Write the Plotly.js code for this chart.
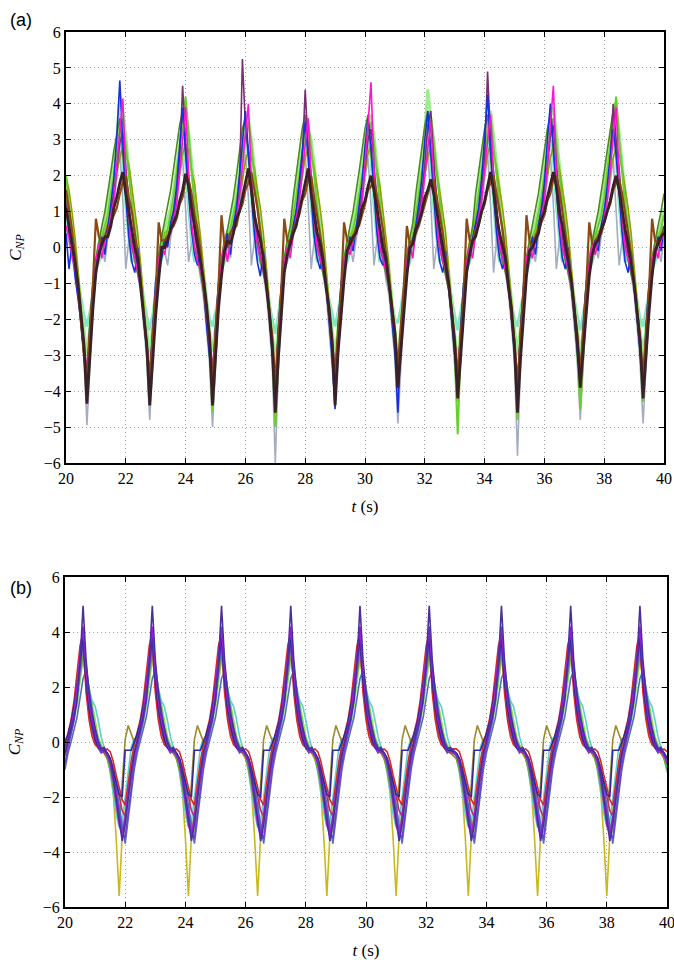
<!DOCTYPE html>
<html><head><meta charset="utf-8">
<script src="https://cdn.plot.ly/plotly-3.0.1.min.js"></script>
<style>html,body{margin:0;padding:0;background:#fff}#chart{width:674px;height:962px}</style>
</head><body><div id="chart"></div>
<script>
// time grid: samples every 0.1 s starting at t = 20 s (201 samples, 20..40 s)
const T_START = 20, T_STEP = 0.1;
const xTickVals = [20,22,24,26,28,30,32,34,36,38,40];
const yTickValsA = [-6,-5,-4,-3,-2,-1,0,1,2,3,4,5,6];
const yTickValsB = [-6,-4,-2,0,2,4,6];

// ---------- panel (a): measured C_NP ----------
const aDark = [
1.1,0.6,0.2,-0.4,-1.0,-1.8,-2.7,
-4.35,-2.9,-1.7,-0.7,-0.2,0.1,0.3,0.3,0.6,1.1,1.4,1.8,2.1,1.5,1.0,0.4,0.0,-0.3,-1.1,-1.8,-2.7,
-4.4,-3.1,-1.9,-0.9,0.0,0.0,0.2,0.5,0.7,0.9,1.3,1.6,2.05,1.7,1.1,0.6,0.1,-0.4,-0.9,-1.6,-2.5,
-4.4,-3.0,-1.7,-0.8,-0.1,0.2,0.1,0.4,0.8,1.0,1.4,1.8,2.2,1.6,0.9,0.5,0.2,-0.3,-1.0,-1.8,-2.8,
-4.6,-3.1,-1.9,-0.7,-0.2,0.1,0.4,0.6,1.0,1.3,1.8,2.2,1.5,1.0,0.4,0.1,-0.4,-1.1,-1.7,-2.6,
-4.4,-2.9,-1.8,-0.9,-0.1,0.1,0.3,0.4,0.7,1.1,1.3,1.7,2.0,1.6,1.1,0.5,0.0,-0.3,-1.0,-1.6,-2.4,
-3.9,-2.8,-1.7,-0.8,0.0,0.1,0.5,0.7,1.0,1.4,1.6,1.9,1.5,1.0,0.5,0.1,-0.4,-1.0,-1.8,-2.7,
-4.2,-3.0,-1.8,-0.7,-0.2,0.2,0.3,0.7,1.0,1.3,1.7,2.1,1.6,0.9,0.4,0.0,-0.3,-1.1,-1.7,-2.8,
-4.6,-3.1,-1.9,-0.8,-0.1,0.0,0.2,0.4,0.8,1.0,1.4,1.8,2.1,1.7,1.0,0.6,0.1,-0.3,-0.9,-1.7,-2.6,
-3.9,-2.9,-1.7,-0.8,-0.2,0.1,0.2,0.5,0.7,1.0,1.3,1.7,2.0,1.6,1.0,0.5,0.1,-0.4,-1.0,-1.8,-2.6,
-4.2,-2.9,-1.8,-0.8,-0.1,0.1,0.3,0.4];
const aBrown = [
1.6,1.1,0.5,-0.2,-1.1,-2.0,-3.0,
-3.5,-2.3,-1.0,0.8,0.3,0.1,0.3,0.4,0.7,0.9,1.1,1.5,1.8,2.0,1.4,1.0,0.4,-0.2,-1.0,-1.9,-2.6,
-3.6,-2.5,-1.3,0.7,0.2,0.2,0.3,0.5,0.6,0.8,1.2,1.4,1.9,1.9,1.5,0.9,0.5,-0.1,-1.1,-1.8,-2.4,
-3.7,-2.4,-1.1,0.9,0.1,0.0,0.4,0.5,0.6,1.0,1.2,1.6,1.8,2.1,1.6,1.1,0.4,-0.3,-0.9,-1.8,-2.5,
-3.8,-2.5,-1.2,0.8,0.2,0.1,0.5,0.7,0.9,1.3,1.5,1.9,2.0,1.4,0.9,0.4,-0.2,-1.0,-1.9,-2.6,
-3.5,-2.3,-1.2,0.7,0.2,0.1,0.2,0.5,0.6,0.9,1.2,1.6,1.7,1.9,1.5,1.0,0.5,-0.2,-0.9,-1.7,-2.3,
-3.3,-2.2,-1.1,0.6,0.1,0.2,0.4,0.6,0.9,1.2,1.5,1.8,1.9,1.4,0.9,0.4,-0.3,-1.0,-1.8,-2.5,
-3.6,-2.4,-1.3,0.8,0.2,0.1,0.5,0.6,1.0,1.2,1.6,1.8,2.0,1.5,1.0,0.5,-0.2,-1.1,-1.9,-2.6,
-3.9,-2.5,-1.2,0.9,0.2,0.0,0.3,0.5,0.7,0.9,1.3,1.5,1.9,2.0,1.6,1.0,0.5,-0.2,-1.0,-1.8,-2.4,
-3.5,-2.3,-1.1,0.7,0.1,0.1,0.3,0.4,0.7,1.0,1.2,1.6,1.8,1.9,1.5,1.0,0.4,-0.2,-1.0,-1.8,-2.5,
-3.6,-2.4,-1.2,0.8,0.2,0.1,0.3,0.5];
const aBlue = [
0.4,-0.6,0.1,-0.8,-1.4,-2.1,-3.0,
-3.9,-2.1,-1.1,-0.4,-0.1,0.3,-0.2,0.5,1.2,1.9,3.1,4.65,2.9,1.4,0.3,-0.4,-0.7,0.0,-0.9,-2.0,-2.8,
-3.7,-2.3,-0.9,-0.6,-0.3,0.2,0.0,0.7,1.0,1.7,2.8,3.9,2.6,1.6,0.5,-0.2,-0.5,-0.2,-1.0,-2.1,-3.0,
-3.9,-2.2,-1.0,-0.5,-0.1,0.4,-0.2,0.6,1.1,1.9,2.9,3.8,2.7,1.4,0.4,-0.4,-0.8,-0.1,-0.8,-1.9,-2.9,
-4.0,-2.3,-1.1,-0.4,-0.2,0.2,0.6,1.0,1.8,2.7,3.5,2.5,1.3,0.3,-0.3,-0.6,-0.2,-1.0,-2.0,-3.1,
-4.5,-2.2,-1.0,-0.5,-0.2,0.3,-0.1,0.5,1.1,1.8,2.8,3.6,2.8,1.5,0.4,-0.3,-0.5,-0.1,-0.9,-2.0,-2.9,
-4.6,-2.4,-1.2,-0.5,-0.1,0.3,0.6,1.2,1.9,3.0,3.8,2.6,1.4,0.3,-0.4,-0.7,-0.1,-1.0,-2.1,-3.0,
-3.9,-2.2,-1.0,-0.6,-0.2,0.2,0.7,1.1,1.9,3.2,4.25,2.7,1.5,0.4,-0.3,-0.6,-0.2,-0.9,-2.0,-2.9,
-4.1,-2.3,-1.1,-0.5,-0.3,0.3,-0.2,0.6,1.1,1.8,3.0,4.0,2.8,1.5,0.5,-0.3,-0.6,0.0,-0.9,-1.9,-2.8,
-3.8,-2.1,-1.0,-0.5,-0.2,0.2,-0.1,0.6,1.0,1.7,2.6,3.3,2.6,1.4,0.4,-0.4,-0.7,-0.1,-1.0,-2.0,-2.9,
-4.0,-2.2,-1.0,-0.5,-0.2,0.3,-0.1,0.6];
const aMagenta = [
0.6,0.3,-0.2,-0.6,-1.0,-1.9,-2.7,
-3.4,-2.4,-1.3,-0.4,0.1,-0.3,0.2,0.4,0.9,1.3,2.3,3.3,4.15,2.0,0.9,0.1,-0.3,-0.6,-1.1,-1.9,-2.6,
-3.5,-2.5,-1.2,-0.3,0.0,-0.2,0.3,0.4,0.8,1.2,2.1,3.0,3.9,2.1,0.7,0.0,-0.4,-0.6,-1.0,-1.8,-2.7,
-3.3,-2.4,-1.1,-0.4,0.1,-0.4,0.2,0.5,0.8,1.4,2.2,3.1,4.0,1.9,0.8,0.1,-0.3,-0.5,-1.0,-1.7,-2.6,
-3.6,-2.6,-1.2,-0.4,0.0,-0.3,0.4,0.8,1.3,2.1,2.9,3.6,2.0,0.8,0.0,-0.3,-0.6,-1.0,-1.8,-2.5,
-3.4,-2.5,-1.2,-0.5,0.0,-0.2,0.2,0.4,0.7,1.3,2.3,3.4,4.6,2.2,0.9,0.0,-0.3,-0.7,-1.0,-1.8,-2.6,
-3.3,-2.4,-1.1,-0.4,0.1,-0.3,0.5,0.8,1.2,2.0,2.8,3.5,1.9,0.7,0.0,-0.4,-0.6,-1.1,-1.9,-2.6,
-3.5,-2.5,-1.3,-0.4,0.0,-0.3,0.4,0.9,1.3,2.2,3.0,3.7,2.0,0.8,0.1,-0.3,-0.6,-1.0,-1.8,-2.7,
-3.6,-2.5,-1.2,-0.3,0.0,-0.3,0.3,0.4,0.8,1.3,2.3,3.4,4.5,2.1,0.8,0.0,-0.3,-0.6,-1.0,-1.8,-2.6,
-3.4,-2.4,-1.2,-0.4,0.1,-0.2,0.2,0.4,0.8,1.3,2.2,3.1,3.9,2.0,0.8,0.0,-0.3,-0.6,-1.0,-1.8,-2.6,
-3.5,-2.5,-1.2,-0.4,0.0,-0.3,0.2,0.4];
const aPurple = [
1.2,0.4,-0.1,-0.5,-1.2,-2.0,-2.9,
-3.8,-2.6,-1.4,-0.6,-0.2,0.1,0.3,0.6,1.0,1.5,2.2,2.9,3.2,2.3,1.2,0.3,-0.2,-0.5,-1.1,-1.9,-2.8,
-3.9,-2.5,-1.3,-0.6,-0.1,0.2,0.3,0.5,0.9,1.5,2.4,4.5,2.9,2.0,1.1,0.4,-0.1,-0.5,-1.2,-2.0,-2.9,
-4.0,-2.7,-1.5,-0.5,-0.2,0.1,0.4,0.6,1.0,1.6,5.25,3.4,2.6,1.8,1.0,0.3,-0.2,-0.6,-1.1,-1.9,-2.8,
-3.9,-2.6,-1.4,-0.6,-0.1,0.2,0.5,1.0,1.5,2.4,4.4,2.8,2.0,1.1,0.3,-0.2,-0.5,-1.1,-2.0,-2.8,
-3.8,-2.5,-1.4,-0.6,-0.2,0.1,0.3,0.5,0.9,1.4,2.2,3.0,3.3,2.3,1.2,0.3,-0.2,-0.5,-1.0,-1.8,-2.7,
-3.7,-2.5,-1.3,-0.5,-0.1,0.2,0.5,0.9,1.5,2.3,3.4,3.8,2.4,1.2,0.3,-0.2,-0.6,-1.1,-1.9,-2.8,
-4.0,-2.6,-1.4,-0.6,-0.2,0.1,0.5,1.0,1.5,2.5,4.9,3.0,2.1,1.1,0.3,-0.2,-0.5,-1.1,-1.9,-2.8,
-4.1,-2.6,-1.4,-0.6,-0.2,0.1,0.3,0.5,0.9,1.5,2.3,3.1,3.4,2.3,1.2,0.3,-0.2,-0.5,-1.1,-1.9,-2.8,
-3.8,-2.5,-1.3,-0.6,-0.1,0.2,0.3,0.5,1.0,1.5,2.4,4.0,3.0,2.2,1.1,0.3,-0.2,-0.5,-1.1,-1.9,-2.8,
-3.9,-2.6,-1.4,-0.6,-0.2,0.1,0.3,0.5];
const aGreen = [
2.0,1.2,0.5,-0.3,-1.0,-1.9,-2.9,
-4.2,-2.8,-1.4,-0.6,0.1,0.3,0.6,0.9,1.5,2.0,2.7,3.3,3.6,2.8,2.0,1.1,0.5,-0.2,-1.0,-1.8,-2.9,
-4.0,-2.7,-1.5,-0.5,0.0,0.4,0.5,1.0,1.4,2.1,2.7,3.4,4.2,3.0,2.1,1.2,0.4,-0.2,-0.9,-1.9,-2.9,
-4.6,-2.9,-1.6,-0.6,0.0,0.3,0.5,0.9,1.3,1.9,2.6,3.1,3.5,2.9,1.9,1.2,0.5,-0.3,-0.9,-1.8,-2.9,
-5.0,-3.0,-1.5,-0.6,0.1,0.3,0.8,1.4,2.0,2.6,3.2,3.5,2.8,2.0,1.1,0.5,-0.2,-0.9,-1.8,-2.8,
-4.1,-2.7,-1.5,-0.6,0.0,0.3,0.5,0.9,1.4,2.0,2.5,3.1,3.5,2.9,2.0,1.2,0.5,-0.2,-0.9,-1.8,-2.8,
-4.0,-2.8,-1.4,-0.5,0.1,0.3,0.9,1.4,2.0,2.7,3.3,3.7,2.9,2.0,1.2,0.5,-0.2,-1.0,-1.9,-3.0,
-5.2,-2.9,-1.6,-0.6,0.0,0.4,0.9,1.5,2.1,2.6,3.2,3.6,2.8,1.9,1.1,0.4,-0.2,-0.9,-1.9,-2.9,
-4.8,-2.8,-1.5,-0.6,0.0,0.3,0.5,0.9,1.4,2.0,2.6,3.2,3.6,2.9,2.0,1.2,0.5,-0.2,-0.9,-1.8,-2.9,
-4.5,-2.8,-1.5,-0.6,0.1,0.3,0.6,0.9,1.4,2.1,2.8,3.5,4.2,3.0,2.0,1.2,0.5,-0.2,-1.0,-1.8,-2.8,
-4.3,-2.8,-1.5,-0.6,0.0,0.3,0.5,0.9];
const aLightGreen = [
1.8,1.2,0.6,-0.1,-0.8,-1.5,-2.2,
-3.0,-2.2,-1.3,-0.5,0.1,0.4,0.7,1.2,1.7,2.3,3.0,4.2,3.8,3.1,2.2,1.5,0.8,0.1,-0.7,-1.5,-2.2,
-3.1,-2.1,-1.2,-0.4,0.2,0.5,0.8,1.1,1.6,2.2,2.9,3.5,3.8,3.2,2.4,1.5,0.7,0.0,-0.7,-1.4,-2.3,
-2.9,-2.2,-1.3,-0.5,0.1,0.4,0.7,1.1,1.5,2.1,2.8,3.4,3.6,3.0,2.2,1.4,0.8,0.1,-0.7,-1.5,-2.2,
-3.2,-2.3,-1.4,-0.5,0.1,0.4,1.0,1.6,2.2,2.9,3.5,3.3,3.0,2.3,1.5,0.8,0.1,-0.7,-1.5,-2.3,
-3.0,-2.2,-1.3,-0.5,0.2,0.4,0.7,1.1,1.6,2.2,2.9,3.5,3.7,3.1,2.3,1.5,0.8,0.1,-0.6,-1.4,-2.2,
-3.1,-2.2,-1.2,-0.4,0.1,0.5,1.1,1.7,2.3,3.2,4.4,3.6,3.0,2.2,1.5,0.7,0.0,-0.7,-1.5,-2.3,
-3.3,-2.3,-1.3,-0.5,0.1,0.4,1.0,1.6,2.2,2.9,3.6,3.8,3.1,2.3,1.4,0.8,0.1,-0.7,-1.5,-2.2,
-3.0,-2.2,-1.3,-0.5,0.1,0.4,0.7,1.1,1.6,2.3,3.0,3.6,3.9,3.2,2.3,1.5,0.8,0.1,-0.7,-1.5,-2.2,
-3.1,-2.2,-1.2,-0.5,0.2,0.5,0.8,1.2,1.7,2.3,3.0,3.7,3.9,3.2,2.3,1.5,0.8,0.1,-0.7,-1.5,-2.3,
-3.0,-2.2,-1.3,-0.5,0.1,0.4,0.7,1.1];
const aOlive = [
2.0,1.6,1.0,0.3,-0.6,-1.6,-2.7,
-4.0,-2.6,-1.6,-0.7,-0.1,0.3,0.4,0.7,1.0,1.5,2.1,2.5,2.8,2.6,2.3,1.7,1.1,0.4,-0.5,-1.5,-2.6,
-4.1,-2.7,-1.5,-0.8,-0.1,0.2,0.5,0.6,1.1,1.5,2.0,2.6,2.9,2.7,2.1,1.8,1.0,0.3,-0.6,-1.6,-2.7,
-3.9,-2.5,-1.6,-0.7,0.0,0.2,0.4,0.6,1.0,1.4,1.9,2.4,2.7,2.5,2.2,1.6,1.1,0.4,-0.5,-1.5,-2.5,
-4.0,-2.6,-1.6,-0.7,-0.1,0.2,0.6,1.0,1.5,2.0,2.5,2.8,2.6,2.2,1.7,1.1,0.4,-0.5,-1.6,-2.7,
-4.1,-2.6,-1.7,-0.7,-0.1,0.2,0.4,0.6,1.0,1.6,2.1,2.6,2.9,2.6,2.2,1.7,1.0,0.3,-0.5,-1.5,-2.6,
-3.9,-2.5,-1.6,-0.6,0.0,0.2,0.6,1.1,1.5,2.0,2.5,2.8,2.5,2.1,1.6,1.0,0.4,-0.6,-1.6,-2.7,
-4.1,-2.7,-1.6,-0.7,-0.1,0.3,0.6,1.0,1.5,2.1,2.6,2.9,2.6,2.2,1.7,1.1,0.4,-0.5,-1.5,-2.6,
-4.0,-2.6,-1.5,-0.7,-0.1,0.2,0.4,0.7,1.0,1.5,2.0,2.5,2.8,2.6,2.2,1.7,1.1,0.4,-0.5,-1.5,-2.6,
-4.0,-2.6,-1.6,-0.7,-0.1,0.2,0.4,0.6,1.0,1.5,2.0,2.5,2.8,2.6,2.2,1.7,1.1,0.4,-0.5,-1.5,-2.6,
-4.0,-2.6,-1.6,-0.7,-0.1,0.2,0.4,0.6];
const aGray = [
0.6,0.1,-0.3,-0.7,-1.3,-2.1,-3.0,
-4.95,-3.1,-1.7,-0.7,-0.3,0.1,-0.4,0.3,0.8,1.2,1.9,2.7,1.3,-0.6,0.2,0.3,-0.2,-0.8,-1.3,-2.2,-3.1,
-4.8,-3.2,-1.6,-0.8,-0.2,-0.1,-0.5,0.3,0.7,1.3,2.0,2.5,1.1,-0.4,0.1,0.3,-0.3,-0.8,-1.4,-2.3,-3.2,
-5.0,-3.3,-1.7,-0.6,-0.3,0.0,-0.3,0.4,0.7,1.1,1.8,2.6,1.4,-0.5,0.2,0.2,-0.2,-0.7,-1.3,-2.2,-3.3,
-6.0,-3.4,-1.8,-0.7,-0.4,0.0,0.3,0.6,1.2,1.9,2.6,1.2,-0.6,0.2,0.3,-0.2,-0.8,-1.3,-2.3,-3.2,
-4.3,-3.1,-1.7,-0.7,-0.2,0.1,-0.4,0.2,0.7,1.2,1.9,2.5,1.2,-0.5,0.2,0.3,-0.2,-0.9,-1.3,-2.2,-3.1,
-4.9,-3.2,-1.7,-0.7,-0.3,0.0,0.3,0.7,1.3,2.0,2.7,1.3,-0.6,0.1,0.3,-0.2,-0.8,-1.2,-2.2,-3.2,
-4.3,-3.1,-1.6,-0.7,-0.3,0.0,0.3,0.7,1.2,1.9,2.6,1.2,-0.7,0.2,0.3,-0.2,-0.8,-1.3,-2.2,-3.2,
-5.8,-3.3,-1.8,-0.7,-0.3,0.0,-0.4,0.3,0.7,1.2,1.9,2.6,1.2,-0.6,0.2,0.3,-0.2,-0.8,-1.3,-2.2,-3.2,
-4.8,-3.2,-1.7,-0.7,-0.3,0.1,-0.3,0.3,0.7,1.2,1.8,2.5,1.1,-0.5,0.2,0.3,-0.2,-0.8,-1.3,-2.2,-3.2,
-4.9,-3.2,-1.7,-0.7,-0.3,0.0,-0.4,0.3];
const aAqua = [
0.9,0.3,-0.2,-0.5,-0.9,-1.4,-1.9,
-2.2,-1.8,-1.3,-0.6,-0.4,-0.1,0.2,0.6,1.1,1.8,2.5,3.1,2.5,1.2,0.3,-0.4,-0.3,-0.6,-1.0,-1.5,-1.9,
-2.3,-1.9,-1.3,-0.7,-0.3,0.0,0.2,0.7,1.2,1.7,2.4,2.9,2.4,1.1,0.2,-0.4,-0.3,-0.5,-1.0,-1.5,-2.0,
-2.2,-1.8,-1.4,-0.6,-0.4,-0.1,0.3,0.6,1.0,1.7,2.3,3.0,2.6,1.3,0.3,-0.3,-0.4,-0.6,-1.0,-1.6,-2.0,
-2.4,-1.9,-1.3,-0.6,-0.3,-0.1,0.6,1.1,1.7,2.4,3.0,2.5,1.2,0.3,-0.4,-0.3,-0.6,-1.1,-1.5,-1.9,
-2.2,-1.8,-1.3,-0.6,-0.4,-0.1,0.2,0.6,1.1,1.7,2.4,3.0,2.5,1.2,0.3,-0.4,-0.3,-0.6,-1.0,-1.6,-2.0,
-2.1,-1.7,-1.2,-0.6,-0.4,0.0,0.6,1.1,1.8,2.5,3.1,2.5,1.1,0.3,-0.4,-0.3,-0.6,-1.0,-1.5,-1.9,
-2.3,-1.8,-1.3,-0.6,-0.4,-0.1,0.6,1.1,1.7,2.4,3.0,2.4,1.2,0.2,-0.4,-0.3,-0.6,-1.0,-1.6,-2.0,
-2.2,-1.8,-1.3,-0.7,-0.4,-0.1,0.2,0.6,1.1,1.7,2.4,3.0,2.5,1.2,0.3,-0.4,-0.3,-0.6,-1.0,-1.5,-1.9,
-2.3,-1.9,-1.4,-0.6,-0.4,-0.1,0.2,0.6,1.1,1.7,2.4,3.0,2.5,1.2,0.3,-0.4,-0.3,-0.6,-1.0,-1.5,-2.0,
-2.2,-1.8,-1.3,-0.6,-0.4,-0.1,0.2,0.6];
const aDarkGreen = [
1.4,0.7,0.0,-0.5,-1.1,-1.9,-2.8,
-3.9,-2.3,-1.0,-0.3,0.2,0.6,1.0,1.5,2.1,2.7,3.2,3.6,2.6,1.5,0.6,0.0,-0.4,-0.7,-1.1,-1.9,-2.8,
-3.8,-2.2,-1.1,-0.2,0.3,0.7,1.1,1.6,2.2,2.8,3.4,3.8,2.7,1.4,0.5,0.0,-0.3,-0.7,-1.2,-2.0,-2.9,
-4.0,-2.4,-1.0,-0.3,0.2,0.5,0.9,1.4,2.0,2.6,3.3,3.6,2.5,1.5,0.6,0.1,-0.4,-0.7,-1.1,-1.9,-2.8,
-4.1,-2.3,-1.1,-0.3,0.2,0.6,1.4,2.0,2.7,3.3,3.7,2.6,1.5,0.6,0.0,-0.4,-0.7,-1.1,-1.9,-2.8,
-3.9,-2.3,-1.0,-0.3,0.2,0.6,1.0,1.5,2.1,2.7,3.3,3.7,2.6,1.5,0.6,0.0,-0.4,-0.7,-1.1,-1.9,-2.8,
-3.8,-2.2,-1.0,-0.2,0.3,0.7,1.5,2.1,2.8,3.4,3.8,2.7,1.5,0.6,0.0,-0.4,-0.7,-1.2,-2.0,-2.9,
-3.9,-2.3,-1.0,-0.3,0.2,0.6,1.5,2.1,2.7,3.3,3.7,2.6,1.4,0.6,0.0,-0.4,-0.7,-1.1,-1.9,-2.8,
-4.0,-2.3,-1.1,-0.3,0.2,0.6,1.0,1.5,2.1,2.7,3.3,3.7,2.6,1.5,0.6,0.0,-0.4,-0.7,-1.1,-1.9,-2.8,
-3.9,-2.3,-1.0,-0.3,0.2,0.6,1.0,1.5,2.1,2.7,3.3,3.8,2.6,1.5,0.6,0.0,-0.4,-0.7,-1.1,-1.9,-2.8,
-3.9,-2.3,-1.0,-0.3,0.2,0.6,1.0,1.5];

// ---------- panel (b): computed C_NP ----------
const bIndigo = [
-0.4,0.0,0.4,0.9,1.5,2.9,
4.95,3.0,1.8,1.0,0.5,0.0,-0.25,-0.2,-0.4,-0.6,-1.2,-2.0,-2.9,-3.6,-3.0,-2.0,-1.1,-0.4,0.0,0.4,0.9,1.5,2.9,
4.95,3.0,1.8,1.0,0.5,0.0,-0.25,-0.2,-0.4,-0.6,-1.2,-2.0,-2.9,-3.6,-3.0,-2.0,-1.1,-0.4,0.0,0.4,0.9,1.5,2.9,
4.95,3.0,1.8,1.0,0.5,0.0,-0.25,-0.2,-0.4,-0.6,-1.2,-2.0,-2.9,-3.6,-3.0,-2.0,-1.1,-0.4,0.0,0.4,0.9,1.5,2.9,
4.95,3.0,1.8,1.0,0.5,0.0,-0.25,-0.2,-0.4,-0.6,-1.2,-2.0,-2.9,-3.6,-3.0,-2.0,-1.1,-0.4,0.0,0.4,0.9,1.5,2.9,
4.95,3.0,1.8,1.0,0.5,0.0,-0.25,-0.2,-0.4,-0.6,-1.2,-2.0,-2.9,-3.6,-3.0,-2.0,-1.1,-0.4,0.0,0.4,0.9,1.5,2.9,
4.95,3.0,1.8,1.0,0.5,0.0,-0.25,-0.2,-0.3,-0.4,-0.6,-1.2,-2.0,-2.9,-3.6,-3.0,-2.0,-1.1,-0.4,0.0,0.4,0.9,1.5,2.9,
4.95,3.0,1.8,1.0,0.5,0.0,-0.25,-0.2,-0.4,-0.6,-1.2,-2.0,-2.9,-3.6,-3.0,-2.0,-1.1,-0.4,0.0,0.4,0.9,1.5,2.9,
4.95,3.0,1.8,1.0,0.5,0.0,-0.25,-0.2,-0.4,-0.6,-1.2,-2.0,-2.9,-3.6,-3.0,-2.0,-1.1,-0.4,0.0,0.4,0.9,1.5,2.9,
4.95,3.0,1.8,1.0,0.5,0.0,-0.25,-0.2,-0.4,-0.6];
const bPurple = [
-0.4,0.0,0.5,1.1,2.0,3.2,
4.2,2.6,1.5,0.8,0.3,-0.1,-0.3,-0.2,-0.45,-0.8,-1.4,-2.2,-3.0,-3.4,-2.7,-1.8,-1.0,-0.4,0.0,0.5,1.1,2.0,3.2,
4.2,2.6,1.5,0.8,0.3,-0.1,-0.3,-0.2,-0.45,-0.8,-1.4,-2.2,-3.0,-3.4,-2.7,-1.8,-1.0,-0.4,0.0,0.5,1.1,2.0,3.2,
4.2,2.6,1.5,0.8,0.3,-0.1,-0.3,-0.2,-0.45,-0.8,-1.4,-2.2,-3.0,-3.4,-2.7,-1.8,-1.0,-0.4,0.0,0.5,1.1,2.0,3.2,
4.2,2.6,1.5,0.8,0.3,-0.1,-0.3,-0.2,-0.45,-0.8,-1.4,-2.2,-3.0,-3.4,-2.7,-1.8,-1.0,-0.4,0.0,0.5,1.1,2.0,3.2,
4.2,2.6,1.5,0.8,0.3,-0.1,-0.3,-0.2,-0.45,-0.8,-1.4,-2.2,-3.0,-3.4,-2.7,-1.8,-1.0,-0.4,0.0,0.5,1.1,2.0,3.2,
4.2,2.6,1.5,0.8,0.3,-0.1,-0.3,-0.2,-0.3,-0.45,-0.8,-1.4,-2.2,-3.0,-3.4,-2.7,-1.8,-1.0,-0.4,0.0,0.5,1.1,2.0,3.2,
4.2,2.6,1.5,0.8,0.3,-0.1,-0.3,-0.2,-0.45,-0.8,-1.4,-2.2,-3.0,-3.4,-2.7,-1.8,-1.0,-0.4,0.0,0.5,1.1,2.0,3.2,
4.2,2.6,1.5,0.8,0.3,-0.1,-0.3,-0.2,-0.45,-0.8,-1.4,-2.2,-3.0,-3.4,-2.7,-1.8,-1.0,-0.4,0.0,0.5,1.1,2.0,3.2,
4.2,2.6,1.5,0.8,0.3,-0.1,-0.3,-0.2,-0.45,-0.8];
const bRed = [
-0.2,0.3,0.8,1.5,2.4,3.5,
3.95,1.8,0.8,0.2,-0.1,-0.2,-0.35,-0.3,-0.25,-0.35,-0.7,-1.2,-1.7,-2.1,-2.3,-1.4,-0.7,-0.1,0.3,0.8,1.5,2.4,3.5,
3.95,1.8,0.8,0.2,-0.1,-0.2,-0.35,-0.3,-0.25,-0.35,-0.7,-1.2,-1.7,-2.1,-2.3,-1.4,-0.7,-0.1,0.3,0.8,1.5,2.4,3.5,
3.95,1.8,0.8,0.2,-0.1,-0.2,-0.35,-0.3,-0.25,-0.35,-0.7,-1.2,-1.7,-2.1,-2.3,-1.4,-0.7,-0.1,0.3,0.8,1.5,2.4,3.5,
3.95,1.8,0.8,0.2,-0.1,-0.2,-0.35,-0.3,-0.25,-0.35,-0.7,-1.2,-1.7,-2.1,-2.3,-1.4,-0.7,-0.1,0.3,0.8,1.5,2.4,3.5,
3.95,1.8,0.8,0.2,-0.1,-0.2,-0.35,-0.3,-0.25,-0.35,-0.7,-1.2,-1.7,-2.1,-2.3,-1.4,-0.7,-0.1,0.3,0.8,1.5,2.4,3.5,
3.95,1.8,0.8,0.2,-0.1,-0.2,-0.35,-0.3,-0.25,-0.25,-0.35,-0.7,-1.2,-1.7,-2.1,-2.3,-1.4,-0.7,-0.1,0.3,0.8,1.5,2.4,3.5,
3.95,1.8,0.8,0.2,-0.1,-0.2,-0.35,-0.3,-0.25,-0.35,-0.7,-1.2,-1.7,-2.1,-2.3,-1.4,-0.7,-0.1,0.3,0.8,1.5,2.4,3.5,
3.95,1.8,0.8,0.2,-0.1,-0.2,-0.35,-0.3,-0.25,-0.35,-0.7,-1.2,-1.7,-2.1,-2.3,-1.4,-0.7,-0.1,0.3,0.8,1.5,2.4,3.5,
3.95,1.8,0.8,0.2,-0.1,-0.2,-0.35,-0.3,-0.25,-0.35];
const bGreen = [
-0.5,0.0,0.4,0.9,1.6,2.6,
3.5,2.8,1.8,1.0,0.4,0.0,-0.2,-0.3,-0.5,-0.9,-1.5,-2.2,-2.8,-3.2,-3.0,-2.1,-1.2,-0.5,0.0,0.4,0.9,1.6,2.6,
3.5,2.8,1.8,1.0,0.4,0.0,-0.2,-0.3,-0.5,-0.9,-1.5,-2.2,-2.8,-3.2,-3.0,-2.1,-1.2,-0.5,0.0,0.4,0.9,1.6,2.6,
3.5,2.8,1.8,1.0,0.4,0.0,-0.2,-0.3,-0.5,-0.9,-1.5,-2.2,-2.8,-3.2,-3.0,-2.1,-1.2,-0.5,0.0,0.4,0.9,1.6,2.6,
3.5,2.8,1.8,1.0,0.4,0.0,-0.2,-0.3,-0.5,-0.9,-1.5,-2.2,-2.8,-3.2,-3.0,-2.1,-1.2,-0.5,0.0,0.4,0.9,1.6,2.6,
3.5,2.8,1.8,1.0,0.4,0.0,-0.2,-0.3,-0.5,-0.9,-1.5,-2.2,-2.8,-3.2,-3.0,-2.1,-1.2,-0.5,0.0,0.4,0.9,1.6,2.6,
3.5,2.8,1.8,1.0,0.4,0.0,-0.2,-0.3,-0.4,-0.5,-0.9,-1.5,-2.2,-2.8,-3.2,-3.0,-2.1,-1.2,-0.5,0.0,0.4,0.9,1.6,2.6,
3.5,2.8,1.8,1.0,0.4,0.0,-0.2,-0.3,-0.5,-0.9,-1.5,-2.2,-2.8,-3.2,-3.0,-2.1,-1.2,-0.5,0.0,0.4,0.9,1.6,2.6,
3.5,2.8,1.8,1.0,0.4,0.0,-0.2,-0.3,-0.5,-0.9,-1.5,-2.2,-2.8,-3.2,-3.0,-2.1,-1.2,-0.5,0.0,0.4,0.9,1.6,2.6,
3.5,2.8,1.8,1.0,0.4,0.0,-0.2,-0.3,-0.5,-0.9];
const bCyan = [
0.15,0.0,0.3,0.8,1.5,2.4,
3.3,2.6,1.9,1.5,1.3,0.8,0.2,-0.2,-0.5,-1.1,-1.8,-2.6,-3.1,-2.9,-2.0,-1.0,-0.2,0.15,0.0,0.3,0.8,1.5,2.4,
3.3,2.6,1.9,1.5,1.3,0.8,0.2,-0.2,-0.5,-1.1,-1.8,-2.6,-3.1,-2.9,-2.0,-1.0,-0.2,0.15,0.0,0.3,0.8,1.5,2.4,
3.3,2.6,1.9,1.5,1.3,0.8,0.2,-0.2,-0.5,-1.1,-1.8,-2.6,-3.1,-2.9,-2.0,-1.0,-0.2,0.15,0.0,0.3,0.8,1.5,2.4,
3.3,2.6,1.9,1.5,1.3,0.8,0.2,-0.2,-0.5,-1.1,-1.8,-2.6,-3.1,-2.9,-2.0,-1.0,-0.2,0.15,0.0,0.3,0.8,1.5,2.4,
3.3,2.6,1.9,1.5,1.3,0.8,0.2,-0.2,-0.5,-1.1,-1.8,-2.6,-3.1,-2.9,-2.0,-1.0,-0.2,0.15,0.0,0.3,0.8,1.5,2.4,
3.3,2.6,1.9,1.5,1.3,0.8,0.2,-0.2,-0.35,-0.5,-1.1,-1.8,-2.6,-3.1,-2.9,-2.0,-1.0,-0.2,0.15,0.0,0.3,0.8,1.5,2.4,
3.3,2.6,1.9,1.5,1.3,0.8,0.2,-0.2,-0.5,-1.1,-1.8,-2.6,-3.1,-2.9,-2.0,-1.0,-0.2,0.15,0.0,0.3,0.8,1.5,2.4,
3.3,2.6,1.9,1.5,1.3,0.8,0.2,-0.2,-0.5,-1.1,-1.8,-2.6,-3.1,-2.9,-2.0,-1.0,-0.2,0.15,0.0,0.3,0.8,1.5,2.4,
3.3,2.6,1.9,1.5,1.3,0.8,0.2,-0.2,-0.5,-1.1];
const bOlive = [
0.0,0.1,0.5,1.0,1.7,2.5,
3.2,2.2,1.3,0.7,0.2,-0.1,-0.3,-0.4,-0.6,-1.0,-1.6,-2.3,-2.9,-1.5,0.1,0.6,0.3,0.0,0.1,0.5,1.0,1.7,2.5,
3.2,2.2,1.3,0.7,0.2,-0.1,-0.3,-0.4,-0.6,-1.0,-1.6,-2.3,-2.9,-1.5,0.1,0.6,0.3,0.0,0.1,0.5,1.0,1.7,2.5,
3.2,2.2,1.3,0.7,0.2,-0.1,-0.3,-0.4,-0.6,-1.0,-1.6,-2.3,-2.9,-1.5,0.1,0.6,0.3,0.0,0.1,0.5,1.0,1.7,2.5,
3.2,2.2,1.3,0.7,0.2,-0.1,-0.3,-0.4,-0.6,-1.0,-1.6,-2.3,-2.9,-1.5,0.1,0.6,0.3,0.0,0.1,0.5,1.0,1.7,2.5,
3.2,2.2,1.3,0.7,0.2,-0.1,-0.3,-0.4,-0.6,-1.0,-1.6,-2.3,-2.9,-1.5,0.1,0.6,0.3,0.0,0.1,0.5,1.0,1.7,2.5,
3.2,2.2,1.3,0.7,0.2,-0.1,-0.3,-0.4,-0.5,-0.6,-1.0,-1.6,-2.3,-2.9,-1.5,0.1,0.6,0.3,0.0,0.1,0.5,1.0,1.7,2.5,
3.2,2.2,1.3,0.7,0.2,-0.1,-0.3,-0.4,-0.6,-1.0,-1.6,-2.3,-2.9,-1.5,0.1,0.6,0.3,0.0,0.1,0.5,1.0,1.7,2.5,
3.2,2.2,1.3,0.7,0.2,-0.1,-0.3,-0.4,-0.6,-1.0,-1.6,-2.3,-2.9,-1.5,0.1,0.6,0.3,0.0,0.1,0.5,1.0,1.7,2.5,
3.2,2.2,1.3,0.7,0.2,-0.1,-0.3,-0.4,-0.6,-1.0];
const bYellow = [
-0.2,0.2,0.6,1.1,1.8,2.5,
3.0,2.3,1.5,0.9,0.4,0.0,-0.3,-0.4,-0.6,-1.0,-1.8,-3.5,-5.6,-3.4,-2.4,-1.5,-0.8,-0.2,0.2,0.6,1.1,1.8,2.5,
3.0,2.3,1.5,0.9,0.4,0.0,-0.3,-0.4,-0.6,-1.0,-1.8,-3.5,-5.6,-3.4,-2.4,-1.5,-0.8,-0.2,0.2,0.6,1.1,1.8,2.5,
3.0,2.3,1.5,0.9,0.4,0.0,-0.3,-0.4,-0.6,-1.0,-1.8,-3.5,-5.6,-3.4,-2.4,-1.5,-0.8,-0.2,0.2,0.6,1.1,1.8,2.5,
3.0,2.3,1.5,0.9,0.4,0.0,-0.3,-0.4,-0.6,-1.0,-1.8,-3.5,-5.6,-3.4,-2.4,-1.5,-0.8,-0.2,0.2,0.6,1.1,1.8,2.5,
3.0,2.3,1.5,0.9,0.4,0.0,-0.3,-0.4,-0.6,-1.0,-1.8,-3.5,-5.6,-3.4,-2.4,-1.5,-0.8,-0.2,0.2,0.6,1.1,1.8,2.5,
3.0,2.3,1.5,0.9,0.4,0.0,-0.3,-0.4,-0.5,-0.6,-1.0,-1.8,-3.5,-5.6,-3.4,-2.4,-1.5,-0.8,-0.2,0.2,0.6,1.1,1.8,2.5,
3.0,2.3,1.5,0.9,0.4,0.0,-0.3,-0.4,-0.6,-1.0,-1.8,-3.5,-5.6,-3.4,-2.4,-1.5,-0.8,-0.2,0.2,0.6,1.1,1.8,2.5,
3.0,2.3,1.5,0.9,0.4,0.0,-0.3,-0.4,-0.6,-1.0,-1.8,-3.5,-5.6,-3.4,-2.4,-1.5,-0.8,-0.2,0.2,0.6,1.1,1.8,2.5,
3.0,2.3,1.5,0.9,0.4,0.0,-0.3,-0.4,-0.6,-1.0];
const bNavy = [
0.0,0.3,0.7,1.3,2.1,3.0,
3.8,2.2,1.2,0.6,0.1,-0.2,-0.3,-0.3,-0.4,-0.6,-1.0,-1.4,-1.9,-2.0,-0.3,-0.3,-0.3,0.0,0.3,0.7,1.3,2.1,3.0,
3.8,2.2,1.2,0.6,0.1,-0.2,-0.3,-0.3,-0.4,-0.6,-1.0,-1.4,-1.9,-2.0,-0.3,-0.3,-0.3,0.0,0.3,0.7,1.3,2.1,3.0,
3.8,2.2,1.2,0.6,0.1,-0.2,-0.3,-0.3,-0.4,-0.6,-1.0,-1.4,-1.9,-2.0,-0.3,-0.3,-0.3,0.0,0.3,0.7,1.3,2.1,3.0,
3.8,2.2,1.2,0.6,0.1,-0.2,-0.3,-0.3,-0.4,-0.6,-1.0,-1.4,-1.9,-2.0,-0.3,-0.3,-0.3,0.0,0.3,0.7,1.3,2.1,3.0,
3.8,2.2,1.2,0.6,0.1,-0.2,-0.3,-0.3,-0.4,-0.6,-1.0,-1.4,-1.9,-2.0,-0.3,-0.3,-0.3,0.0,0.3,0.7,1.3,2.1,3.0,
3.8,2.2,1.2,0.6,0.1,-0.2,-0.3,-0.3,-0.35,-0.4,-0.6,-1.0,-1.4,-1.9,-2.0,-0.3,-0.3,-0.3,0.0,0.3,0.7,1.3,2.1,3.0,
3.8,2.2,1.2,0.6,0.1,-0.2,-0.3,-0.3,-0.4,-0.6,-1.0,-1.4,-1.9,-2.0,-0.3,-0.3,-0.3,0.0,0.3,0.7,1.3,2.1,3.0,
3.8,2.2,1.2,0.6,0.1,-0.2,-0.3,-0.3,-0.4,-0.6,-1.0,-1.4,-1.9,-2.0,-0.3,-0.3,-0.3,0.0,0.3,0.7,1.3,2.1,3.0,
3.8,2.2,1.2,0.6,0.1,-0.2,-0.3,-0.3,-0.4,-0.6];
const bSlate = [
-1.0,-0.4,0.0,0.4,0.9,1.6,
2.3,2.6,1.9,1.1,0.5,0.1,-0.2,-0.3,-0.4,-0.6,-1.0,-1.6,-2.3,-3.0,-3.7,-2.8,-1.8,-1.0,-0.4,0.0,0.4,0.9,1.6,
2.3,2.6,1.9,1.1,0.5,0.1,-0.2,-0.3,-0.4,-0.6,-1.0,-1.6,-2.3,-3.0,-3.7,-2.8,-1.8,-1.0,-0.4,0.0,0.4,0.9,1.6,
2.3,2.6,1.9,1.1,0.5,0.1,-0.2,-0.3,-0.4,-0.6,-1.0,-1.6,-2.3,-3.0,-3.7,-2.8,-1.8,-1.0,-0.4,0.0,0.4,0.9,1.6,
2.3,2.6,1.9,1.1,0.5,0.1,-0.2,-0.3,-0.4,-0.6,-1.0,-1.6,-2.3,-3.0,-3.7,-2.8,-1.8,-1.0,-0.4,0.0,0.4,0.9,1.6,
2.3,2.6,1.9,1.1,0.5,0.1,-0.2,-0.3,-0.4,-0.6,-1.0,-1.6,-2.3,-3.0,-3.7,-2.8,-1.8,-1.0,-0.4,0.0,0.4,0.9,1.6,
2.3,2.6,1.9,1.1,0.5,0.1,-0.2,-0.3,-0.35,-0.4,-0.6,-1.0,-1.6,-2.3,-3.0,-3.7,-2.8,-1.8,-1.0,-0.4,0.0,0.4,0.9,1.6,
2.3,2.6,1.9,1.1,0.5,0.1,-0.2,-0.3,-0.4,-0.6,-1.0,-1.6,-2.3,-3.0,-3.7,-2.8,-1.8,-1.0,-0.4,0.0,0.4,0.9,1.6,
2.3,2.6,1.9,1.1,0.5,0.1,-0.2,-0.3,-0.4,-0.6,-1.0,-1.6,-2.3,-3.0,-3.7,-2.8,-1.8,-1.0,-0.4,0.0,0.4,0.9,1.6,
2.3,2.6,1.9,1.1,0.5,0.1,-0.2,-0.3,-0.4,-0.6];
const bLightGreen = [
-0.7,-0.2,0.2,0.7,1.3,2.2,
3.0,2.6,2.0,1.3,0.7,0.2,-0.1,-0.3,-0.5,-0.8,-1.3,-2.0,-2.6,-3.1,-3.3,-2.4,-1.5,-0.7,-0.2,0.2,0.7,1.3,2.2,
3.0,2.6,2.0,1.3,0.7,0.2,-0.1,-0.3,-0.5,-0.8,-1.3,-2.0,-2.6,-3.1,-3.3,-2.4,-1.5,-0.7,-0.2,0.2,0.7,1.3,2.2,
3.0,2.6,2.0,1.3,0.7,0.2,-0.1,-0.3,-0.5,-0.8,-1.3,-2.0,-2.6,-3.1,-3.3,-2.4,-1.5,-0.7,-0.2,0.2,0.7,1.3,2.2,
3.0,2.6,2.0,1.3,0.7,0.2,-0.1,-0.3,-0.5,-0.8,-1.3,-2.0,-2.6,-3.1,-3.3,-2.4,-1.5,-0.7,-0.2,0.2,0.7,1.3,2.2,
3.0,2.6,2.0,1.3,0.7,0.2,-0.1,-0.3,-0.5,-0.8,-1.3,-2.0,-2.6,-3.1,-3.3,-2.4,-1.5,-0.7,-0.2,0.2,0.7,1.3,2.2,
3.0,2.6,2.0,1.3,0.7,0.2,-0.1,-0.3,-0.4,-0.5,-0.8,-1.3,-2.0,-2.6,-3.1,-3.3,-2.4,-1.5,-0.7,-0.2,0.2,0.7,1.3,2.2,
3.0,2.6,2.0,1.3,0.7,0.2,-0.1,-0.3,-0.5,-0.8,-1.3,-2.0,-2.6,-3.1,-3.3,-2.4,-1.5,-0.7,-0.2,0.2,0.7,1.3,2.2,
3.0,2.6,2.0,1.3,0.7,0.2,-0.1,-0.3,-0.5,-0.8,-1.3,-2.0,-2.6,-3.1,-3.3,-2.4,-1.5,-0.7,-0.2,0.2,0.7,1.3,2.2,
3.0,2.6,2.0,1.3,0.7,0.2,-0.1,-0.3,-0.5,-0.8];
const bViolet = [
-0.8,-0.2,0.3,0.8,1.6,2.6,
3.6,2.3,1.4,0.7,0.2,-0.2,-0.4,-0.3,-0.5,-0.7,-1.1,-1.8,-2.6,-3.3,-3.5,-2.6,-1.6,-0.8,-0.2,0.3,0.8,1.6,2.6,
3.6,2.3,1.4,0.7,0.2,-0.2,-0.4,-0.3,-0.5,-0.7,-1.1,-1.8,-2.6,-3.3,-3.5,-2.6,-1.6,-0.8,-0.2,0.3,0.8,1.6,2.6,
3.6,2.3,1.4,0.7,0.2,-0.2,-0.4,-0.3,-0.5,-0.7,-1.1,-1.8,-2.6,-3.3,-3.5,-2.6,-1.6,-0.8,-0.2,0.3,0.8,1.6,2.6,
3.6,2.3,1.4,0.7,0.2,-0.2,-0.4,-0.3,-0.5,-0.7,-1.1,-1.8,-2.6,-3.3,-3.5,-2.6,-1.6,-0.8,-0.2,0.3,0.8,1.6,2.6,
3.6,2.3,1.4,0.7,0.2,-0.2,-0.4,-0.3,-0.5,-0.7,-1.1,-1.8,-2.6,-3.3,-3.5,-2.6,-1.6,-0.8,-0.2,0.3,0.8,1.6,2.6,
3.6,2.3,1.4,0.7,0.2,-0.2,-0.4,-0.3,-0.4,-0.5,-0.7,-1.1,-1.8,-2.6,-3.3,-3.5,-2.6,-1.6,-0.8,-0.2,0.3,0.8,1.6,2.6,
3.6,2.3,1.4,0.7,0.2,-0.2,-0.4,-0.3,-0.5,-0.7,-1.1,-1.8,-2.6,-3.3,-3.5,-2.6,-1.6,-0.8,-0.2,0.3,0.8,1.6,2.6,
3.6,2.3,1.4,0.7,0.2,-0.2,-0.4,-0.3,-0.5,-0.7,-1.1,-1.8,-2.6,-3.3,-3.5,-2.6,-1.6,-0.8,-0.2,0.3,0.8,1.6,2.6,
3.6,2.3,1.4,0.7,0.2,-0.2,-0.4,-0.3,-0.5,-0.7];
const bCrimson = [
-0.5,0.1,0.6,1.2,2.0,3.0,
3.8,2.0,1.0,0.4,0.0,-0.2,-0.3,-0.4,-0.4,-0.6,-0.9,-1.4,-2.0,-2.5,-2.7,-2.0,-1.2,-0.5,0.1,0.6,1.2,2.0,3.0,
3.8,2.0,1.0,0.4,0.0,-0.2,-0.3,-0.4,-0.4,-0.6,-0.9,-1.4,-2.0,-2.5,-2.7,-2.0,-1.2,-0.5,0.1,0.6,1.2,2.0,3.0,
3.8,2.0,1.0,0.4,0.0,-0.2,-0.3,-0.4,-0.4,-0.6,-0.9,-1.4,-2.0,-2.5,-2.7,-2.0,-1.2,-0.5,0.1,0.6,1.2,2.0,3.0,
3.8,2.0,1.0,0.4,0.0,-0.2,-0.3,-0.4,-0.4,-0.6,-0.9,-1.4,-2.0,-2.5,-2.7,-2.0,-1.2,-0.5,0.1,0.6,1.2,2.0,3.0,
3.8,2.0,1.0,0.4,0.0,-0.2,-0.3,-0.4,-0.4,-0.6,-0.9,-1.4,-2.0,-2.5,-2.7,-2.0,-1.2,-0.5,0.1,0.6,1.2,2.0,3.0,
3.8,2.0,1.0,0.4,0.0,-0.2,-0.3,-0.4,-0.4,-0.4,-0.6,-0.9,-1.4,-2.0,-2.5,-2.7,-2.0,-1.2,-0.5,0.1,0.6,1.2,2.0,3.0,
3.8,2.0,1.0,0.4,0.0,-0.2,-0.3,-0.4,-0.4,-0.6,-0.9,-1.4,-2.0,-2.5,-2.7,-2.0,-1.2,-0.5,0.1,0.6,1.2,2.0,3.0,
3.8,2.0,1.0,0.4,0.0,-0.2,-0.3,-0.4,-0.4,-0.6,-0.9,-1.4,-2.0,-2.5,-2.7,-2.0,-1.2,-0.5,0.1,0.6,1.2,2.0,3.0,
3.8,2.0,1.0,0.4,0.0,-0.2,-0.3,-0.4,-0.4,-0.6];

// ---------- styles (kept apart from data) ----------
const stylesA = [
  {y: aAqua, color: '#86e6c8', width: 3},
  {y: aLightGreen, color: '#9cee8c', width: 3},
  {y: aGray, color: '#a4acc2', width: 1.6},
  {y: aOlive, color: '#94a000', width: 1.6},
  {y: aGreen, color: '#6acd2e', width: 2},
  {y: aDarkGreen, color: '#4c8c1a', width: 1.6},
  {y: aPurple, color: '#7c2c72', width: 1.6},
  {y: aBlue, color: '#1430e0', width: 1.6},
  {y: aMagenta, color: '#ff14cc', width: 1.6},
  {y: aBrown, color: '#8c4a12', width: 2.2},
  {y: aDark, color: '#3a2128', width: 2.8}
];
const stylesB = [
  {y: bYellow, color: '#c9b81e'},
  {y: bLightGreen, color: '#8ee03a'},
  {y: bCyan, color: '#5ed0d0'},
  {y: bOlive, color: '#9c8a2c'},
  {y: bGreen, color: '#22d84a'},
  {y: bSlate, color: '#5a6cc0'},
  {y: bCrimson, color: '#c0306a'},
  {y: bRed, color: '#d42a2a'},
  {y: bViolet, color: '#7040d0'},
  {y: bNavy, color: '#2c2c9e'},
  {y: bPurple, color: '#9b1fd8'},
  {y: bIndigo, color: '#4a2fa0'}
];

const traces = [];
stylesA.forEach(s => traces.push({type:'scatter', mode:'lines', x0:T_START, dx:T_STEP, y:s.y,
  xaxis:'x', yaxis:'y', line:{color:s.color, width:s.width}, hoverinfo:'skip', showlegend:false}));
stylesB.forEach(s => traces.push({type:'scatter', mode:'lines', x0:T_START, dx:T_STEP, y:s.y,
  xaxis:'x2', yaxis:'y2', line:{color:s.color, width:1.6}, hoverinfo:'skip', showlegend:false}));

const SERIF = '"Liberation Serif", "Times New Roman", "DejaVu Serif", serif';
const tickFont = {family: SERIF, size: 16, color: '#000'};
const titleFont = {family: SERIF, size: 17, color: '#000'};
const axBase = {showline:true, linecolor:'#000', linewidth:2, mirror:'ticks', ticks:'inside', ticklen:5,
  tickwidth:1, tickcolor:'#000', showgrid:true, gridcolor:'#a0a0a0', griddash:'1px,3px', gridwidth:1,
  zeroline:false, tickfont:tickFont, automargin:false, fixedrange:true, ticklabeloverflow:'allow'};

const W = 674, H = 962, ML = 60, MR = 4, MT = 20, MB = 40;
const pw = W - ML - MR, ph = H - MT - MB;
const dx = (a, b) => [(a - ML) / pw, (b - ML) / pw];
const dy = (top, bot) => [(H - MB - bot) / ph, (H - MB - top) / ph];

const layout = {
  width: W, height: H,
  margin: {l: ML, r: MR, t: MT, b: MB},
  paper_bgcolor: '#fff', plot_bgcolor: '#fff',
  showlegend: false,
  xaxis: Object.assign({}, axBase, {domain: dx(66, 664), range: [20, 40], tickvals: xTickVals, anchor: 'y',
    title: {text: '<i>t</i> (s)', font: titleFont, standoff: 14}}),
  yaxis: Object.assign({}, axBase, {domain: dy(32, 463), range: [-6, 6], tickvals: yTickValsA, anchor: 'x',
    title: {text: '<i>C</i><sub><i>NP</i></sub>', font: titleFont, standoff: 18}}),
  xaxis2: Object.assign({}, axBase, {domain: dx(65, 667), range: [20, 40], tickvals: xTickVals, anchor: 'y2',
    title: {text: '<i>t</i> (s)', font: titleFont, standoff: 14}}),
  yaxis2: Object.assign({}, axBase, {domain: dy(577, 907), range: [-6, 6], tickvals: yTickValsB, anchor: 'x2',
    title: {text: '<i>C</i><sub><i>NP</i></sub>', font: titleFont, standoff: 18}}),
  annotations: [
    {text: '(a)', xref: 'paper', yref: 'paper', x: (8 - ML) / pw, y: (H - MB - 20) / ph, xanchor: 'left', yanchor: 'middle',
      showarrow: false, font: {family: '"Liberation Sans", Arial, sans-serif', size: 18, color: '#000'}},
    {text: '(b)', xref: 'paper', yref: 'paper', x: (8 - ML) / pw, y: (H - MB - 588) / ph, xanchor: 'left', yanchor: 'middle',
      showarrow: false, font: {family: '"Liberation Sans", Arial, sans-serif', size: 18, color: '#000'}}
  ]
};

Plotly.newPlot('chart', traces, layout, {staticPlot: true, displayModeBar: false});
</script>
</body></html>
